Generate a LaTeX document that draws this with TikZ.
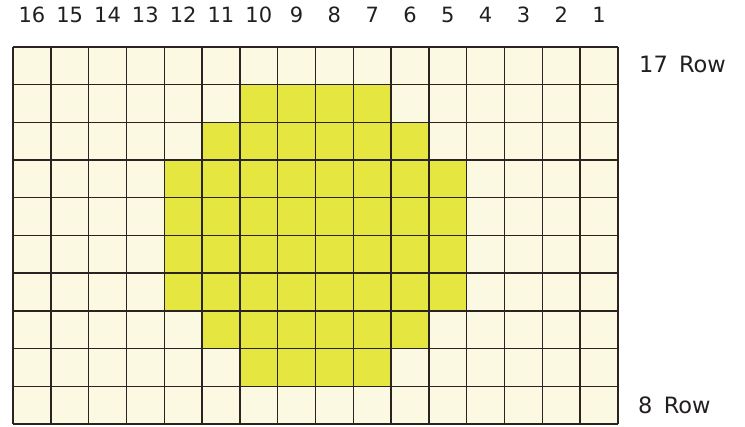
\documentclass[tikz,border=0pt]{standalone}
\usepackage{fontspec}
\setmainfont{DejaVu Sans}
\definecolor{cream}{HTML}{FCF9E3}
\definecolor{lime}{HTML}{E6E641}
\definecolor{gridline}{HTML}{2B2222}
\definecolor{txt}{HTML}{231F20}
\begin{document}
\begin{tikzpicture}[x=1pt,y=-1pt,
  lbl/.style={font=\fontsize{21}{25}\selectfont, text=txt, inner sep=0pt},
  rowlbl/.style={font=\fontsize{22.5}{27}\selectfont, text=txt, inner sep=0pt, anchor=west},
  gridln/.style={draw=gridline, line width=1.4pt}]
\useasboundingbox (0,0) rectangle (745,427);
\def\cw{37.8125}
\def\ch{37.7}
\fill[cream] (13,47) rectangle (618,424);
\foreach \r/\a/\b in {1/6/9,2/5/10,3/4/11,4/4/11,5/4/11,6/4/11,7/5/10,8/6/9}
  \fill[lime] ({13+\a*\cw},{47+\r*\ch}) rectangle ({13+(\b+1)*\cw},{47+(\r+1)*\ch});
\foreach \i in {0,...,16}
  \draw[gridln] ({13+\i*\cw},47) -- ({13+\i*\cw},424);
\foreach \j in {0,...,10}
  \draw[gridln] (13,{47+\j*\ch}) -- (618,{47+\j*\ch});
\foreach \i in {0,...,15} {
  \pgfmathtruncatemacro{\n}{16-\i}
  \node[lbl] (c\n) at ({13+(\i+0.5)*\cw},15) {\n};
}
\node[rowlbl] (r17) at (639,64) {17\hspace{0.5em}Row};
\node[rowlbl] (r8) at (638,405) {8\hspace{0.5em}Row};
\end{tikzpicture}
\end{document}
